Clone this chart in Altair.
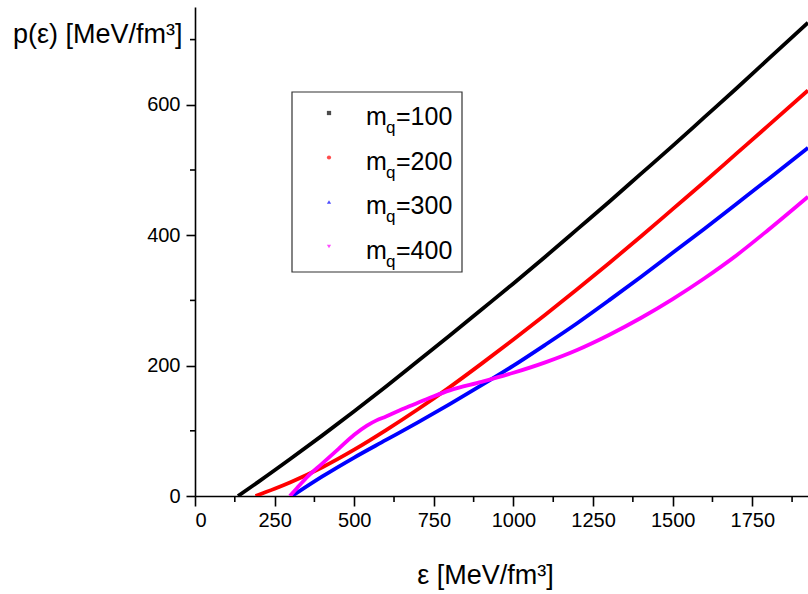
import altair as alt
import pandas as pd

# ---- data ----
series_labels = ["100", "200", "300", "400"]
series_colors = ["#000000", "#ff0000", "#0000ff", "#ff00ff"]
series_shapes = ["square", "circle", "triangle-up", "triangle-down"]

eps_m100 = [135, 200, 300, 400, 500, 600, 700, 800, 900, 1000, 1100, 1200, 1300, 1400, 1500, 1600, 1700, 1800, 1925]
p_m100 = [0, 22, 57, 93, 130, 168, 207, 246, 286, 326, 367, 409, 451, 494, 537, 581, 625, 670, 726]

eps_m200 = [190, 250, 300, 400, 500, 600, 700, 800, 900, 1000, 1100, 1200, 1300, 1400, 1500, 1600, 1700, 1800, 1925]
p_m200 = [0, 11, 21, 44, 71, 101, 133, 167, 203, 240, 278, 317, 357, 398, 440, 482, 525, 568, 622]

eps_m300 = [305, 400, 500, 600, 700, 800, 900, 1000, 1100, 1200, 1300, 1400, 1500, 1600, 1700, 1800, 1925]
p_m300 = [0, 30, 59, 86, 113, 141, 170, 200, 232, 265, 300, 336, 373, 410, 448, 486, 534]

eps_m400 = [298, 320, 350, 400, 450, 500, 540, 570, 600, 650, 700, 750, 800, 900, 1000, 1100, 1200, 1300, 1400, 1500, 1600, 1700, 1800, 1925]
p_m400 = [0, 12, 28, 50, 72, 94, 108, 116, 122, 133, 143, 153, 162, 175, 189, 205, 224, 247, 273, 302, 334, 369, 408, 459]

x_major = [0, 250, 500, 750, 1000, 1250, 1500, 1750]
x_minor = [125, 375, 625, 875, 1125, 1375, 1625, 1875]
y_major = [0, 200, 400, 600]
y_minor = [100, 300, 500, 700]

x_title = "ε [MeV/fm³]"
y_title = "p(ε) [MeV/fm³]"

FONT = "Liberation Sans"
W, H = 613, 489

xs = [eps_m100, eps_m200, eps_m300, eps_m400]
ys = [p_m100, p_m200, p_m300, p_m400]

x_scale = alt.Scale(domain=[0, 1925], nice=False, zero=False)
y_scale = alt.Scale(domain=[0, 750], nice=False, zero=False)
x_axis = alt.Axis(values=x_major, format="d", title=x_title, tickSize=10, labelPadding=4,
                  titleX=290, titleY=87, titleAlign="center",
                  titleBaseline="alphabetic")
y_axis = alt.Axis(values=y_major, format="d", title=y_title, tickSize=9, labelPadding=6,
                  titleAngle=0, titleX=-13, titleY=35, titleAlign="right",
                  titleBaseline="alphabetic")

layers = []

# curves
for i, lab in enumerate(series_labels):
    df = pd.DataFrame({"eps": xs[i], "p": ys[i]})
    layers.append(
        alt.Chart(df).mark_line(color=series_colors[i], strokeWidth=3.8,
                                interpolate="monotone", clip=True)
        .encode(x=alt.X("eps:Q", scale=x_scale, axis=x_axis),
                y=alt.Y("p:Q", scale=y_scale, axis=y_axis),
                order=alt.Order("eps:Q"))
    )

# minor ticks
layers.append(
    alt.Chart(pd.DataFrame({"eps": x_minor})).mark_rule(color="black", strokeWidth=1.6)
    .encode(x=alt.X("eps:Q", scale=x_scale, axis=x_axis), y=alt.value(H), y2=alt.value(H + 6))
)
layers.append(
    alt.Chart(pd.DataFrame({"p": y_minor})).mark_rule(color="black", strokeWidth=1.6)
    .encode(y=alt.Y("p:Q", scale=y_scale, axis=y_axis), x=alt.value(0), x2=alt.value(-5))
)

# legend box (drawn manually to allow the subscript q)
one = pd.DataFrame({"k": [0]})
layers.append(
    alt.Chart(one).mark_rect(fill="white", stroke="#333333", strokeWidth=1.2)
    .encode(x=alt.value(97), x2=alt.value(267), y=alt.value(85), y2=alt.value(265))
)
for i, lab in enumerate(series_labels):
    yc = 106 + i * 44.5
    layers.append(
        alt.Chart(one).mark_point(shape=series_shapes[i], filled=True, size=18,
                                  color=series_colors[i])
        .encode(x=alt.value(134), y=alt.value(yc))
    )
    layers.append(
        alt.Chart(one).mark_text(text="m", font=FONT, fontSize=25, align="left",
                                 baseline="alphabetic", color="black")
        .encode(x=alt.value(171), y=alt.value(yc + 12))
    )
    layers.append(
        alt.Chart(one).mark_text(text="q", font=FONT, fontSize=17, align="left",
                                 baseline="alphabetic", color="black")
        .encode(x=alt.value(191), y=alt.value(yc + 20))
    )
    layers.append(
        alt.Chart(one).mark_text(text="=" + lab, font=FONT, fontSize=25, align="left",
                                 baseline="alphabetic", color="black")
        .encode(x=alt.value(201), y=alt.value(yc + 12))
    )

chart = (
    alt.layer(*layers)
    .properties(width=W, height=H, autosize=alt.AutoSizeParams(type="none"),
                padding={"left": 195, "top": 7, "right": 0, "bottom": 98},
                background="white")
    .configure_view(stroke=None)
    .configure_axis(grid=False, domainColor="black", domainWidth=1.6,
                    tickColor="black", tickWidth=1.6, labelColor="black",
                    labelFont=FONT, labelFontSize=20, titleFont=FONT,
                    titleFontSize=27, titleFontWeight="normal", titleColor="black")
)

chart.save("out.html", embed_options={"renderer": "svg", "actions": False})
